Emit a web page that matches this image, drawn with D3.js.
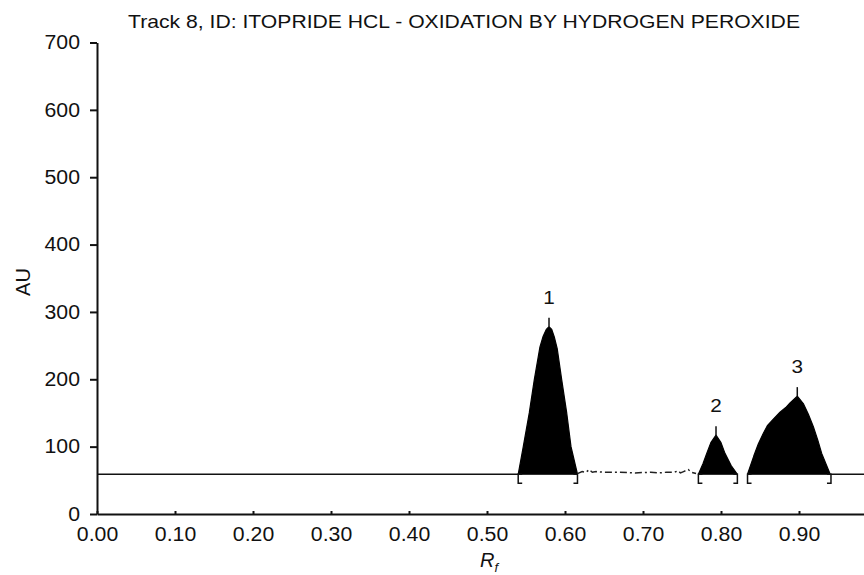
<!DOCTYPE html>
<html>
<head>
    <script src="https://d3js.org/d3.v7.min.js"></script>
    <style>
        body { margin: 0; background: #fff; }
        svg { display: block; }
        text { font-family: "Liberation Sans", Arial, sans-serif; fill: #111; }
        .axis text { font-size: 19.5px; }
        .axis path, .axis line { stroke: #111; stroke-width: 2; fill: none; }
        .title { font-size: 19px; }
        .axis-title { font-size: 20px; }
        .peak-label { font-size: 19px; }
    </style>
</head>
<body>
<svg width="864" height="575"></svg>
<script>
    // Tick values
    const xTicks = [0, 0.1, 0.2, 0.3, 0.4, 0.5, 0.6, 0.7, 0.8, 0.9];
    const yTicks = [0, 100, 200, 300, 400, 500, 600, 700];

    // Baseline level (AU) and the Rf stretches where it is drawn solid
    const baselineAU = 59;
    const baselineSegments = [[0, 0.540], [0.940, 1.0]];

    // Peak profiles (Rf, AU)
    const peak1Rf = [0.540, 0.5465, 0.5542, 0.5606, 0.5679, 0.5720, 0.5760, 0.5795, 0.5830, 0.5865, 0.5901, 0.5958, 0.6022, 0.6077, 0.616];
    const peak1AU = [59, 100, 150, 199, 248, 264, 274, 278, 274, 262, 245, 199, 150, 100, 59];
    const peak2Rf = [0.771, 0.7770, 0.7817, 0.7870, 0.7936, 0.8000, 0.8051, 0.8130, 0.821];
    const peak2AU = [59, 75, 90, 106, 117, 106, 90, 72, 59];
    const peak3Rf = [0.834, 0.8420, 0.8478, 0.8540, 0.8594, 0.8680, 0.8756, 0.8830, 0.8885, 0.8978, 0.9055, 0.9120, 0.9183, 0.9240, 0.9291, 0.940];
    const peak3AU = [59, 86, 104, 119, 131, 142, 151, 158, 165, 175, 164, 148, 130, 110, 90, 59];

    // Noisy trace between peak 1 and peak 2
    const noiseRf = [0.616, 0.622, 0.627, 0.631, 0.635, 0.640, 0.650, 0.670, 0.690, 0.710, 0.720, 0.730, 0.740, 0.745, 0.748, 0.752, 0.758, 0.762, 0.768];
    const noiseAU = [60, 63, 62, 66, 62, 63, 62, 62, 61, 62, 61, 62, 62, 64, 61, 63, 66, 62, 60];

    // Peak apex markers and integration brackets
    const peakLabels = ["1", "2", "3"];
    const peakApexRf = [0.5795, 0.7936, 0.8978];
    const peakApexAU = [278, 117, 175];
    const bracketRanges = [[0.540, 0.616], [0.771, 0.821], [0.834, 0.941]];

    const margin = {top: 42.5, left: 97, bottom: 61},
        width = 780,
        height = 575 - margin.top - margin.bottom;

    const x = d3.scaleLinear().domain([0, 1]).range([0, width]);
    const y = d3.scaleLinear().domain([0, 700]).range([height, 0]);

    const svg = d3.select("svg")
        .append("g")
        .attr("transform", "translate(" + margin.left + "," + margin.top + ")");

    // Title
    svg.append("text")
        .attr("class", "title")
        .attr("x", 31)
        .attr("y", -14.5)
        .attr("textLength", 672)
        .attr("lengthAdjust", "spacingAndGlyphs")
        .text("Track 8, ID: ITOPRIDE HCL - OXIDATION BY HYDROGEN PEROXIDE");

    // Solid baseline stretches
    const line = d3.line().x(d => x(d[0])).y(d => y(d[1]));
    baselineSegments.forEach(function(seg) {
        svg.append("path")
            .attr("d", line([[seg[0], baselineAU], [seg[1], baselineAU]]))
            .attr("fill", "none")
            .attr("stroke", "#111")
            .attr("stroke-width", 1.5);
    });

    // Filled peaks
    const area = d3.area()
        .x(d => x(d[0]))
        .y0(y(baselineAU))
        .y1(d => y(d[1]));
    [[peak1Rf, peak1AU], [peak2Rf, peak2AU], [peak3Rf, peak3AU]].forEach(function(p) {
        svg.append("path")
            .attr("d", area(d3.zip(p[0], p[1])))
            .attr("fill", "#000")
            .attr("stroke", "#000")
            .attr("stroke-width", 1.2)
            .attr("stroke-linejoin", "round");
    });

    // Noisy dashed trace
    svg.append("path")
        .attr("d", line(d3.zip(noiseRf, noiseAU)))
        .attr("fill", "none")
        .attr("stroke", "#222")
        .attr("stroke-width", 1.5)
        .attr("stroke-dasharray", "7,3,2,3");

    // Apex marks and labels
    peakLabels.forEach(function(lbl, i) {
        const px = x(peakApexRf[i]), py = y(peakApexAU[i]);
        svg.append("line")
            .attr("x1", px).attr("x2", px)
            .attr("y1", py).attr("y2", py - 9)
            .attr("stroke", "#111")
            .attr("stroke-width", 1.5);
        svg.append("text")
            .attr("class", "peak-label")
            .attr("x", px)
            .attr("y", py - 23)
            .attr("text-anchor", "middle")
            .text(lbl);
    });

    // Integration brackets under the baseline
    bracketRanges.forEach(function(r) {
        const by = y(baselineAU), x0 = x(r[0]), x1 = x(r[1]);
        svg.append("path")
            .attr("d", "M" + (x0 + 4) + "," + by + "H" + x0 + "V" + (by + 9) + "H" + (x0 + 4))
            .attr("fill", "none").attr("stroke", "#111").attr("stroke-width", 1.5);
        svg.append("path")
            .attr("d", "M" + (x1 - 4) + "," + by + "H" + x1 + "V" + (by + 9) + "H" + (x1 - 4))
            .attr("fill", "none").attr("stroke", "#111").attr("stroke-width", 1.5);
    });

    // X axis
    svg.append("g")
        .attr("class", "axis")
        .attr("transform", "translate(0," + height + ")")
        .call(d3.axisBottom(x).tickValues(xTicks).tickFormat(d3.format(".2f"))
            .tickSizeInner(-3).tickSizeOuter(0).tickPadding(13));

    // Y axis
    svg.append("g")
        .attr("class", "axis")
        .call(d3.axisLeft(y).tickValues(yTicks).tickSize(7).tickSizeOuter(0).tickPadding(10));

    // the original lettering is a little wider than Liberation Sans
    svg.selectAll(".axis text, .peak-label")
        .attr("fill", "#111")
        .each(function() {
            this.setAttribute("textLength", this.getComputedTextLength() * 1.09);
            this.setAttribute("lengthAdjust", "spacingAndGlyphs");
        });

    // Axis titles
    svg.append("text")
        .attr("class", "axis-title")
        .attr("transform", "rotate(-90)")
        .attr("x", -(282 - margin.top))
        .attr("y", -margin.left + 30)
        .attr("text-anchor", "middle")
        .text("AU");

    const xt = svg.append("text")
        .attr("class", "axis-title")
        .attr("x", 392)
        .attr("y", 567 - margin.top)
        .attr("text-anchor", "middle");
    xt.append("tspan").attr("font-style", "italic").text("R");
    xt.append("tspan").attr("font-style", "italic").attr("font-size", "13px").attr("dy", 5).text("f");
</script>
</body>
</html>
